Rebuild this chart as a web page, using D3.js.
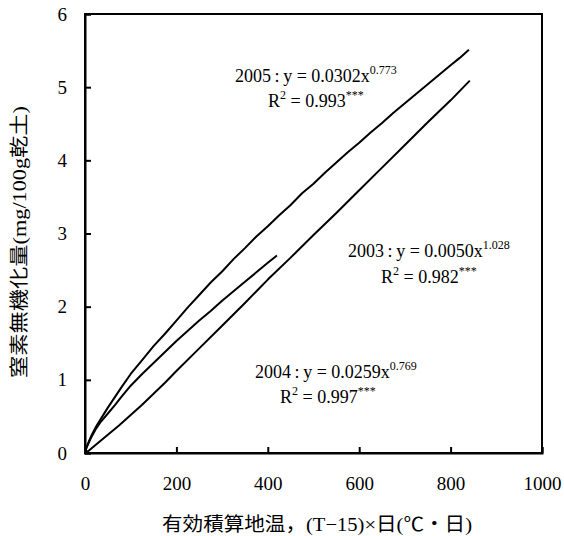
<!DOCTYPE html>
<html>
<head>
<meta charset="utf-8">
<script src="https://cdn.jsdelivr.net/npm/d3@7"></script>
<style>
  body { margin: 0; background: #fff; }
  text { font-family: "Liberation Serif", "Noto Sans CJK JP", serif; fill: #000; }
</style>
</head>
<body>
<div id="chart"></div>
<script>
// Sets dimensions of SVG arena
var width = 564;
var height = 536;
var margin = {top: 14, right: 22, bottom: 83, left: 85};

// Cumulative effective soil temperature (x) and mineralized N (y)
var x2005 = [0, 3, 8, 15, 25, 35, 50, 65, 80, 100, 125, 150, 175, 200, 225, 250, 275, 300, 325, 350, 375, 400, 425, 450, 475, 500, 525, 550, 575, 600, 625, 650, 675, 700, 725, 750, 775, 800, 820, 840];
var y2005 = [0, 0.07, 0.15, 0.25, 0.37, 0.47, 0.62, 0.76, 0.90, 1.08, 1.27, 1.46, 1.63, 1.81, 1.99, 2.16, 2.33, 2.48, 2.65, 2.80, 2.96, 3.10, 3.25, 3.39, 3.55, 3.68, 3.83, 3.97, 4.11, 4.24, 4.38, 4.51, 4.65, 4.78, 4.91, 5.04, 5.17, 5.30, 5.40, 5.51];

var x2004 = [0, 3, 8, 15, 25, 35, 50, 65, 80, 100, 125, 150, 175, 200, 225, 250, 275, 300, 325, 350, 375, 400, 420];
var y2004 = [0, 0.07, 0.14, 0.23, 0.34, 0.43, 0.54, 0.65, 0.77, 0.92, 1.08, 1.23, 1.38, 1.53, 1.67, 1.81, 1.94, 2.08, 2.21, 2.34, 2.47, 2.60, 2.70];

var x2003 = [0, 5, 10, 25, 50, 75, 100, 125, 150, 175, 200, 250, 300, 350, 400, 450, 500, 550, 600, 650, 700, 750, 800, 842];
var y2003 = [0, 0.02, 0.04, 0.12, 0.25, 0.38, 0.52, 0.66, 0.81, 0.96, 1.12, 1.43, 1.74, 2.05, 2.37, 2.67, 2.98, 3.28, 3.59, 3.90, 4.21, 4.52, 4.82, 5.09];

var xTicks = [0, 200, 400, 600, 800, 1000];
var yTicks = [0, 1, 2, 3, 4, 5, 6];

// Equation labels
var eqYears = ["2005", "2003", "2004"];
var eqCoef = ["0.0302", "0.0050", "0.0259"];
var eqExp = ["0.773", "1.028", "0.769"];
var eqR2 = ["0.993", "0.982", "0.997"];

var xLabel = "有効積算地温，(T−15)×日(℃・日)";
var yLabel = "窒素無機化量(mg/100g乾土)";

var innerW = width - margin.left - margin.right;
var innerH = height - margin.top - margin.bottom;

var svg = d3.select("#chart").append("svg")
	.attr("width", width)
	.attr("height", height);

var g = svg.append("g")
	.attr("transform", "translate(" + margin.left + "," + margin.top + ")");

var x = d3.scaleLinear().domain([0, 1000]).range([0, innerW]);
var y = d3.scaleLinear().domain([0, 6]).range([innerH, 0]);

// Frame
g.append("rect")
	.attr("width", innerW)
	.attr("height", innerH)
	.attr("fill", "none")
	.attr("stroke", "#000")
	.attr("stroke-width", 2);

// Axes with inward ticks
var xAxis = g.append("g")
	.attr("transform", "translate(0," + innerH + ")")
	.call(d3.axisBottom(x).tickValues(xTicks).tickSize(-6).tickPadding(24).tickFormat(d3.format("d")));
var yAxis = g.append("g")
	.call(d3.axisLeft(y).tickValues(yTicks).tickSize(-6).tickPadding(18).tickFormat(d3.format("d")));

[xAxis, yAxis].forEach(function(a)
{
	a.select(".domain").attr("stroke", "#000").attr("stroke-width", 2);
	a.selectAll(".tick line").attr("stroke", "#000").attr("stroke-width", 2);
	a.selectAll(".tick text").attr("font-size", 19).attr("font-family", null);
});

// Curves
var line = d3.line()
	.x(function(d) { return x(d[0]); })
	.y(function(d) { return y(d[1]); });

var series = [
	d3.zip(x2005, y2005),
	d3.zip(x2004, y2004),
	d3.zip(x2003, y2003)
];

g.selectAll("path.curve")
	.data(series)
	.enter()
	.append("path")
	.attr("class", "curve")
	.attr("d", line)
	.attr("fill", "none")
	.attr("stroke", "#000")
	.attr("stroke-width", 2)
	.attr("stroke-linejoin", "round");

// Equation text positions (in pixels of the svg)
var eqPos = [
	{x1: 235, y1: 82, x2: 268, y2: 107},
	{x1: 348, y1: 257, x2: 381, y2: 283},
	{x1: 255, y1: 378, x2: 280, y2: 403}
];

eqYears.forEach(function(yr, i)
{
	var p = eqPos[i];
	var t1 = svg.append("text")
		.attr("x", p.x1)
		.attr("y", p.y1)
		.attr("font-size", 18);
	t1.append("tspan").text(yr + "\u2009:\u2009y = " + eqCoef[i] + "x");
	t1.append("tspan").attr("font-size", 12).attr("dy", -8).text(eqExp[i]);

	var t2 = svg.append("text")
		.attr("x", p.x2)
		.attr("y", p.y2)
		.attr("font-size", 18);
	t2.append("tspan").text("R");
	t2.append("tspan").attr("font-size", 12).attr("dy", -8).text("2");
	t2.append("tspan").attr("dy", 8).text(" = " + eqR2[i]);
	t2.append("tspan").attr("font-size", 12).attr("dy", -8).text("***");
});

// Axis titles
svg.append("text")
	.attr("x", 162)
	.attr("y", 531)
	.attr("font-size", 19)
	.attr("textLength", 310)
	.attr("lengthAdjust", "spacingAndGlyphs")
	.text(xLabel);

svg.append("text")
	.attr("transform", "translate(26,378) rotate(-90)")
	.attr("font-size", 19)
	.attr("textLength", 272)
	.attr("lengthAdjust", "spacingAndGlyphs")
	.text(yLabel);
</script>
</body>
</html>
